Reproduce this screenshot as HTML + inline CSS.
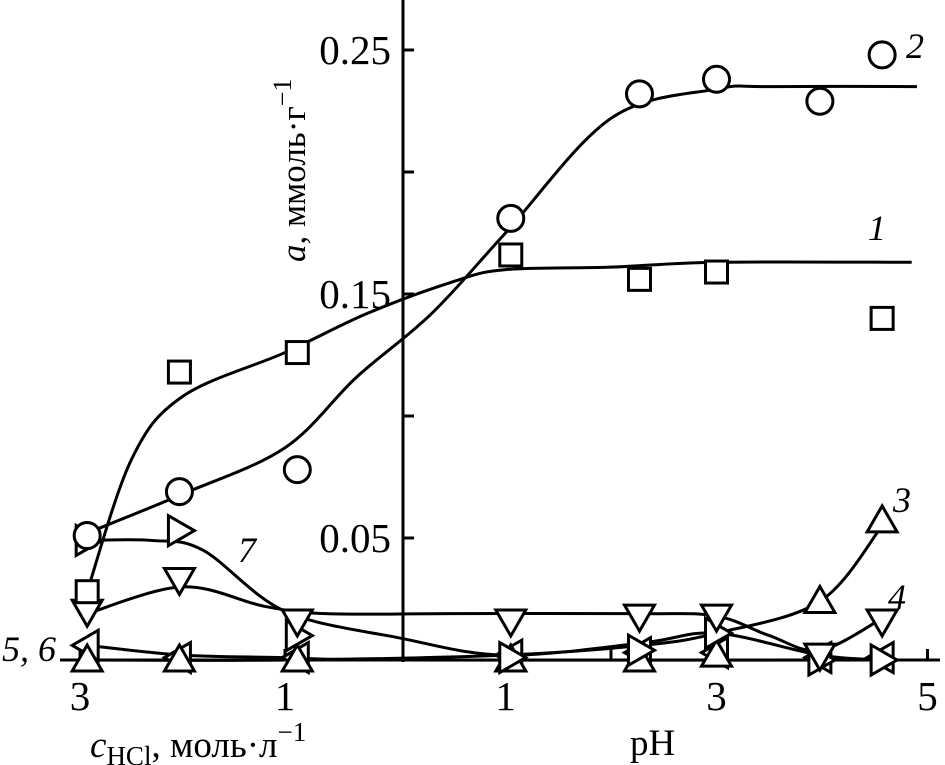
<!DOCTYPE html>
<html><head><meta charset="utf-8"><style>
html,body{margin:0;padding:0;background:#fff}
svg{display:block}
text{font-family:"Liberation Serif","DejaVu Serif",serif;fill:#000}
</style></head><body>
<svg id="chart" width="945" height="765" viewBox="0 0 945 765" xmlns="http://www.w3.org/2000/svg">
<g id="axes"></g>
<g id="curves"></g>
<g id="marks"></g>
<text transform="translate(305,262) rotate(-90)" font-size="35"><tspan font-style="italic">a</tspan>, ммоль·г<tspan dy="-14" font-size="26">−1</tspan></text>
<text x="90" y="757" font-size="37" fill="#333"><tspan font-style="italic">c</tspan><tspan dy="8" font-size="27">HCl</tspan><tspan dy="-8">, моль·л</tspan><tspan dy="-16" font-size="27">−1</tspan></text>
<text x="630" y="755" font-size="37">pH</text>
<text x="906" y="58" font-size="36" font-style="italic">2</text>
<text x="868" y="240" font-size="36" font-style="italic">1</text>
<text x="893" y="512" font-size="36" font-style="italic">3</text>
<text x="888" y="609" font-size="36" font-style="italic">4</text>
<text x="238" y="562" font-size="36" font-style="italic">7</text>
<text x="2" y="661" font-size="36" font-style="italic">5, 6</text>
</svg>
<script>
// x values: negative = c(HCl) (left panel), positive = pH (right panel)
const xPoints = [-2.93, -2.03, -0.88, 1.05, 2.27, 3.0, 3.98, 4.57];
const s1 = [0.028, 0.118, 0.126, 0.166, 0.156, 0.159, null, 0.140];
const s2 = [0.051, 0.069, 0.078, 0.181, 0.232, 0.238, 0.229, 0.248];
const s3 = [0.0, 0.0, 0.0, 0.0, 0.0, 0.002, 0.024, 0.057];
const s4 = [0.020, 0.033, 0.016, 0.016, 0.018, 0.018, 0.002, 0.016];
const s7 = [0.049, 0.053, 0.010, 0.001, 0.004, 0.011, 0.0, 0.0];
const s56 = [0.006, 0.001, 0.001, 0.002, 0.003, 0.003, 0.001, 0.001];
// fitted curves
const c1x = [-2.93, -2.5, -2.0, -1.0, -0.2, 0.5, 1.0, 2.0, 3.0, 4.85];
const c1y = [0.028, 0.082, 0.108, 0.126, 0.142, 0.155, 0.160, 0.161, 0.163, 0.163];
const c2x = [-2.93, -2.0, -1.0, -0.3, 0.3, 1.0, 2.0, 3.0, 3.5, 4.9];
const c2y = [0.052, 0.068, 0.087, 0.116, 0.142, 0.175, 0.222, 0.234, 0.235, 0.235];
const c3x = [-2.93, -1.0, 1.0, 2.3, 3.0, 3.98, 4.57];
const c3y = [0.0, 0.0, 0.002, 0.006, 0.011, 0.024, 0.055];
const c4x = [-2.93, -2.0, -1.2, -0.6, 0.5, 2.3, 3.0, 3.5, 3.98, 4.57];
const c4y = [0.019, 0.030, 0.022, 0.019, 0.019, 0.019, 0.018, 0.010, 0.004, 0.017];
const c7x = [-2.93, -2.3, -1.8, -1.0, 0.0, 1.0, 2.3, 3.0, 3.98, 4.57];
const c7y = [0.049, 0.049, 0.045, 0.020, 0.009, 0.002, 0.007, 0.011, 0.002, 0.0];
const c56x = [-2.93, -2.0, -1.0, 0.0, 4.8];
const c56y = [0.006, 0.002, 0.001, 0.0, 0.0];
const yTicks = [0.05, 0.10, 0.15, 0.20, 0.25];
const yTickLabels = ["0.05", "", "0.15", "", "0.25"];
const leftTicks = [3, 2, 1];
const leftTickLabels = ["3", "", "1"];
const rightTicks = [1, 2, 3, 4, 5];
const rightTickLabels = ["1", "", "3", "", "5"];

const NS = "http://www.w3.org/2000/svg";
function X(u){ return u < 0 ? 387.5 + 102.5*u : 400 + 105.5*u; }
function Y(v){ return 660 - 2440*v; }
function mk(tag, attrs, parent){
  const e = document.createElementNS(NS, tag);
  for (const k in attrs) e.setAttribute(k, attrs[k]);
  parent.appendChild(e); return e;
}
const axes = document.getElementById('axes');
let e;
e = mk('line',{x1:60,y1:660,x2:940,y2:660,stroke:'#000','stroke-width':3},axes);
 
e = mk('line',{x1:403,y1:0,x2:403,y2:662,stroke:'#000','stroke-width':3},axes);
 
yTicks.forEach((v,i)=>{
  const t = mk('line',{x1:403,y1:Y(v),x2:414,y2:Y(v),stroke:'#000','stroke-width':3},axes);
   
  if (yTickLabels[i]) {
    const l = mk('text',{x:391,y:Y(v)+14,'font-size':41,'text-anchor':'end'},axes);
    l.textContent = yTickLabels[i];
     
  }
});
function xTick(u,label){
  const t = mk('line',{x1:X(u),y1:660,x2:X(u),y2:649,stroke:'#000','stroke-width':3},axes);
   
  if (label){
    const l = mk('text',{x:X(u),y:710,'font-size':41,'text-anchor':'middle'},axes);
    l.textContent = label;
     
  }
}
leftTicks.forEach((c,i)=>xTick(-c,leftTickLabels[i]));
rightTicks.forEach((p,i)=>xTick(p,rightTickLabels[i]));

function smooth(xs, ys){
  const p = xs.map((x,i)=>[X(x),Y(ys[i])]);
  let d = `M${p[0][0]},${p[0][1]}`;
  for (let i=0;i<p.length-1;i++){
    const p0=p[Math.max(0,i-1)], p1=p[i], p2=p[i+1], p3=p[Math.min(p.length-1,i+2)];
    const c1=[p1[0]+(p2[0]-p0[0])/6, p1[1]+(p2[1]-p0[1])/6];
    const c2=[p2[0]-(p3[0]-p1[0])/6, p2[1]-(p3[1]-p1[1])/6];
    d += ` C${c1[0]},${c1[1]} ${c2[0]},${c2[1]} ${p2[0]},${p2[1]}`;
  }
  return d;
}
const curves = document.getElementById('curves');
[[c1x,c1y,'curve-1'],[c2x,c2y,'curve-2'],[c3x,c3y,'curve-3'],[c4x,c4y,'curve-4'],[c7x,c7y,'curve-7'],[c56x,c56y,'curve-5-6']].forEach(c=>{
  const p = mk('path',{d:smooth(c[0],c[1]),fill:'none',stroke:'#000','stroke-width':3},curves);
  
  
});

const marks = document.getElementById('marks');
function shape(kind, cx, cy){
  const a = {fill:'#fff',stroke:'#000','stroke-width':3};
  if (kind==='square') return mk('rect',Object.assign({x:cx-11,y:cy-11,width:22,height:22},a),marks);
  if (kind==='circle') return mk('circle',Object.assign({cx:cx,cy:cy,r:13},a),marks);
  let pts;
  if (kind==='up') pts=[[cx,cy-15],[cx+15,cy+11],[cx-15,cy+11]];
  if (kind==='down') pts=[[cx-15,cy-11],[cx+15,cy-11],[cx,cy+15]];
  if (kind==='right') pts=[[cx-11,cy-15],[cx+15,cy],[cx-11,cy+15]];
  if (kind==='left') pts=[[cx+11,cy-15],[cx-15,cy],[cx+11,cy+15]];
  return mk('polygon',Object.assign({points:pts.map(q=>q.join(',')).join(' ')},a),marks);
}
[[s56,'left','marker-5-6'],[s3,'up','marker-3'],[s7,'right','marker-7'],[s4,'down','marker-4'],[s2,'circle','marker-2'],[s1,'square','marker-1']].forEach(s=>{
  s[0].forEach((v,i)=>{
    if (v===null) return;
    const m = shape(s[1], X(xPoints[i]), Y(v));
    
    
  });
});
</script>
</body></html>
